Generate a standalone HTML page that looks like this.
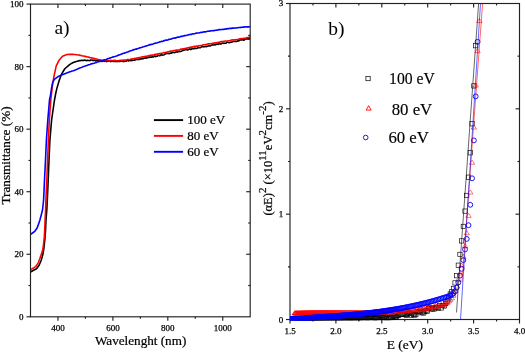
<!DOCTYPE html><html><head><meta charset="utf-8"><title>Transmittance and Tauc plot</title>
<style>html,body{margin:0;padding:0;background:#fff;width:525px;height:352px;overflow:hidden}svg{display:block;will-change:transform}text{font-family:"Liberation Serif",serif;fill:#000;stroke:#000;stroke-width:0.25px}.s9{stroke-width:0.3px}.s13{stroke-width:0.22px}.s16{stroke-width:0.15px}.s19{stroke-width:0.02px}</style></head><body>
<svg width="525" height="352" viewBox="0 0 525 352">
<defs><clipPath id="cl"><rect x="30.50" y="4.10" width="219.70" height="312.70"/></clipPath>
<clipPath id="cr"><rect x="290.00" y="3.50" width="229.50" height="316.80"/></clipPath></defs>
<g clip-path="url(#cl)" fill="none" stroke-width="1.6" stroke-linejoin="round" stroke-linecap="round">
<path d="M30.50,272.00 L33.10,270.50 L36.50,268.80 L39.10,265.30 L41.20,260.20 L42.70,255.10 L43.80,249.00 L44.80,240.00 L45.50,231.00 L46.00,220.00 L46.80,210.00 L47.30,200.00 L48.20,180.00 L49.00,160.00 L49.90,140.00 L51.60,120.00 L54.50,100.00 L55.60,94.00 L56.80,88.60 L59.10,80.70 L61.40,74.40 L64.80,68.75 L69.30,64.80 L70.00,64.35 L70.80,63.87 L71.60,63.38 L72.40,62.96 L73.20,62.55 L74.00,62.20 L74.80,61.91 L75.60,61.68 L76.40,61.44 L77.20,61.24 L78.00,60.98 L78.80,60.87 L79.60,60.54 L80.40,60.66 L81.20,60.24 L82.00,60.47 L82.80,60.34 L83.60,60.39 L84.40,60.16 L85.20,60.17 L86.00,60.50 L86.80,60.60 L87.60,60.19 L88.40,60.43 L89.20,60.56 L90.00,60.58 L90.80,60.00 L91.60,59.97 L92.40,60.09 L93.20,60.70 L94.00,60.08 L94.80,60.40 L95.60,60.94 L96.40,60.61 L97.20,60.81 L98.00,60.53 L98.80,60.92 L99.60,61.12 L100.40,60.44 L101.20,61.15 L102.00,61.42 L102.80,61.25 L103.60,60.88 L104.40,61.39 L105.20,60.83 L106.00,61.19 L106.80,61.66 L107.60,61.15 L108.40,61.18 L109.20,61.06 L110.00,60.98 L110.80,61.59 L111.60,61.19 L112.40,61.25 L113.20,61.47 L114.00,61.09 L114.80,61.56 L115.60,61.18 L116.40,61.58 L117.20,61.67 L118.00,61.11 L118.80,61.36 L119.60,61.57 L120.40,61.28 L121.20,60.91 L122.00,61.29 L122.80,61.36 L123.60,61.17 L124.40,61.50 L125.20,61.11 L126.00,61.31 L126.80,60.54 L127.60,60.45 L128.40,60.96 L129.20,60.49 L130.00,60.19 L130.80,60.77 L131.60,60.15 L132.40,60.40 L133.20,60.26 L134.00,60.28 L134.80,59.92 L135.60,59.91 L136.40,59.42 L137.20,59.22 L138.00,59.65 L138.80,59.10 L139.60,59.45 L140.40,59.05 L141.20,58.88 L142.00,58.29 L142.80,58.91 L143.60,58.32 L144.40,58.30 L145.20,58.01 L146.00,57.71 L146.80,58.17 L147.60,57.74 L148.40,57.08 L149.20,57.49 L150.00,57.08 L150.80,57.11 L151.60,57.29 L152.40,56.66 L153.20,57.01 L154.00,56.60 L154.80,55.90 L155.60,56.57 L156.40,56.20 L157.20,56.32 L158.00,55.42 L158.80,55.22 L159.60,55.78 L160.40,55.41 L161.20,54.68 L162.00,55.13 L162.80,54.97 L163.60,54.96 L164.40,54.61 L165.20,53.92 L166.00,53.66 L166.80,53.50 L167.60,53.34 L168.40,53.37 L169.20,53.76 L170.00,53.30 L170.80,53.15 L171.60,53.24 L172.40,52.43 L173.20,52.41 L174.00,52.52 L174.80,52.70 L175.60,52.17 L176.40,51.53 L177.20,52.07 L178.00,51.40 L178.80,51.76 L179.60,51.22 L180.40,51.49 L181.20,51.23 L182.00,50.90 L182.80,50.36 L183.60,50.13 L184.40,50.03 L185.20,49.81 L186.00,49.71 L186.80,49.66 L187.60,49.95 L188.40,49.66 L189.20,49.01 L190.00,48.91 L190.80,49.57 L191.60,49.06 L192.40,48.59 L193.20,48.49 L194.00,48.79 L194.80,48.15 L195.60,48.35 L196.40,48.56 L197.20,48.31 L198.00,47.62 L198.80,47.71 L199.60,47.68 L200.40,47.73 L201.20,46.98 L202.00,46.71 L202.80,46.61 L203.60,46.84 L204.40,46.81 L205.20,46.63 L206.00,46.25 L206.80,46.70 L207.60,46.19 L208.40,45.85 L209.20,45.85 L210.00,45.88 L210.80,45.65 L211.60,45.14 L212.40,44.81 L213.20,44.93 L214.00,45.01 L214.80,44.48 L215.60,44.82 L216.40,44.05 L217.20,44.08 L218.00,44.43 L218.80,43.74 L219.60,44.00 L220.40,43.76 L221.20,43.98 L222.00,43.25 L222.80,42.94 L223.60,43.41 L224.40,43.31 L225.20,43.30 L226.00,43.19 L226.80,42.23 L227.60,42.30 L228.40,42.52 L229.20,42.68 L230.00,42.55 L230.80,42.07 L231.60,42.26 L232.40,41.87 L233.20,41.51 L234.00,41.46 L234.80,41.43 L235.60,41.24 L236.40,41.44 L237.20,41.29 L238.00,40.67 L238.80,41.04 L239.60,40.19 L240.40,40.00 L241.20,39.86 L242.00,40.05 L242.80,39.46 L243.60,40.15 L244.40,39.89 L245.20,39.01 L246.00,39.01 L246.80,39.00 L247.60,38.66 L248.40,39.12 L249.20,38.55 L250.00,38.93" stroke="#000"/>
<path d="M30.50,269.60 L33.10,268.30 L36.10,266.20 L38.20,262.80 L39.90,258.50 L41.60,253.40 L42.70,250.00 L43.50,245.00 L44.30,237.00 L44.80,228.00 L45.10,220.00 L45.60,210.00 L45.90,200.00 L46.80,180.00 L47.60,160.00 L48.40,140.00 L49.30,120.00 L50.80,100.00 L51.60,93.00 L52.30,86.40 L54.00,76.10 L56.25,65.90 L59.10,60.20 L62.50,56.25 L67.00,54.50 L70.00,54.42 L70.80,54.40 L71.60,54.41 L72.40,54.40 L73.20,54.40 L74.00,54.43 L74.80,54.49 L75.60,54.62 L76.40,54.69 L77.20,54.79 L78.00,54.96 L78.80,55.06 L79.60,55.13 L80.40,55.36 L81.20,55.46 L82.00,55.78 L82.80,55.99 L83.60,56.08 L84.40,56.37 L85.20,56.33 L86.00,56.66 L86.80,56.71 L87.60,57.03 L88.40,57.11 L89.20,57.31 L90.00,57.69 L90.80,57.72 L91.60,57.85 L92.40,58.08 L93.20,58.31 L94.00,58.54 L94.80,58.58 L95.60,58.97 L96.40,59.06 L97.20,59.25 L98.00,59.37 L98.80,59.75 L99.60,59.81 L100.40,59.76 L101.20,60.16 L102.00,60.39 L102.80,60.24 L103.60,60.50 L104.40,60.29 L105.20,60.47 L106.00,60.45 L106.80,60.50 L107.60,60.71 L108.40,60.61 L109.20,60.83 L110.00,60.62 L110.80,60.39 L111.60,60.53 L112.40,60.78 L113.20,60.55 L114.00,60.36 L114.80,60.47 L115.60,60.38 L116.40,60.85 L117.20,60.82 L118.00,60.72 L118.80,60.59 L119.60,60.64 L120.40,60.30 L121.20,60.31 L122.00,60.38 L122.80,60.24 L123.60,60.03 L124.40,60.42 L125.20,60.06 L126.00,59.99 L126.80,59.79 L127.60,59.64 L128.40,59.58 L129.20,59.67 L130.00,59.50 L130.80,59.20 L131.60,58.88 L132.40,59.13 L133.20,58.72 L134.00,58.73 L134.80,58.30 L135.60,58.46 L136.40,58.16 L137.20,58.06 L138.00,57.86 L138.80,57.66 L139.60,57.60 L140.40,57.65 L141.20,57.07 L142.00,57.01 L142.80,56.72 L143.60,56.90 L144.40,56.70 L145.20,56.32 L146.00,56.26 L146.80,56.21 L147.60,56.06 L148.40,55.65 L149.20,55.84 L150.00,55.62 L150.80,55.14 L151.60,55.35 L152.40,55.12 L153.20,54.99 L154.00,54.70 L154.80,54.38 L155.60,54.57 L156.40,54.25 L157.20,53.97 L158.00,53.77 L158.80,53.93 L159.60,53.53 L160.40,53.43 L161.20,53.31 L162.00,53.26 L162.80,53.00 L163.60,52.62 L164.40,52.67 L165.20,52.46 L166.00,52.33 L166.80,52.25 L167.60,51.87 L168.40,51.68 L169.20,51.49 L170.00,51.41 L170.80,51.12 L171.60,51.28 L172.40,50.95 L173.20,50.74 L174.00,50.54 L174.80,50.47 L175.60,50.28 L176.40,50.15 L177.20,50.08 L178.00,49.96 L178.80,49.95 L179.60,49.85 L180.40,49.22 L181.20,49.15 L182.00,49.19 L182.80,48.78 L183.60,48.97 L184.40,48.48 L185.20,48.58 L186.00,48.37 L186.80,48.28 L187.60,47.74 L188.40,47.68 L189.20,47.76 L190.00,47.29 L190.80,47.11 L191.60,47.12 L192.40,47.08 L193.20,46.66 L194.00,46.52 L194.80,46.36 L195.60,46.38 L196.40,46.37 L197.20,45.98 L198.00,46.17 L198.80,45.80 L199.60,45.75 L200.40,45.44 L201.20,45.45 L202.00,45.48 L202.80,45.08 L203.60,44.81 L204.40,44.77 L205.20,44.64 L206.00,44.52 L206.80,44.38 L207.60,43.99 L208.40,43.90 L209.20,43.90 L210.00,43.88 L210.80,43.77 L211.60,43.62 L212.40,43.34 L213.20,43.42 L214.00,42.96 L214.80,42.90 L215.60,42.89 L216.40,42.80 L217.20,42.44 L218.00,42.52 L218.80,42.19 L219.60,42.19 L220.40,41.71 L221.20,41.59 L222.00,41.92 L222.80,41.38 L223.60,41.53 L224.40,41.22 L225.20,41.06 L226.00,41.03 L226.80,41.17 L227.60,40.88 L228.40,40.93 L229.20,40.70 L230.00,40.48 L230.80,40.36 L231.60,40.09 L232.40,39.86 L233.20,39.94 L234.00,39.89 L234.80,39.92 L235.60,39.69 L236.40,39.65 L237.20,39.56 L238.00,39.44 L238.80,39.25 L239.60,38.77 L240.40,38.75 L241.20,38.55 L242.00,38.75 L242.80,38.58 L243.60,38.23 L244.40,38.20 L245.20,38.19 L246.00,38.07 L246.80,37.62 L247.60,37.75 L248.40,37.65 L249.20,37.14 L250.00,37.04" stroke="#f00"/>
<path d="M30.50,234.30 L32.50,233.00 L34.80,231.30 L37.10,228.00 L38.80,223.40 L39.90,220.00 L41.50,214.00 L42.50,210.00 L43.60,200.00 L44.50,180.00 L45.50,160.00 L46.40,140.00 L47.80,120.00 L49.50,100.00 L50.70,94.10 L51.50,88.40 L52.60,82.70 L54.30,79.30 L57.70,76.80 L62.30,74.80 L68.00,72.50 L70.00,71.81 L70.80,71.56 L71.60,71.30 L72.40,71.04 L73.20,70.80 L74.00,70.52 L74.80,70.17 L75.60,69.85 L76.40,69.47 L77.20,69.14 L78.00,68.72 L78.80,68.40 L79.60,68.09 L80.40,67.71 L81.20,67.47 L82.00,67.15 L82.80,66.74 L83.60,66.57 L84.40,66.22 L85.20,65.98 L86.00,65.67 L86.80,65.51 L87.60,65.17 L88.40,64.82 L89.20,64.68 L90.00,64.49 L90.80,64.08 L91.60,63.79 L92.40,63.60 L93.20,63.55 L94.00,63.33 L94.80,62.97 L95.60,62.83 L96.40,62.57 L97.20,62.14 L98.00,61.79 L98.80,61.77 L99.60,61.49 L100.40,61.17 L101.20,60.87 L102.00,60.69 L102.80,60.46 L103.60,60.12 L104.40,59.87 L105.20,59.68 L106.00,59.58 L106.80,59.20 L107.60,58.82 L108.40,58.55 L109.20,58.35 L110.00,57.98 L110.80,57.71 L111.60,57.57 L112.40,57.12 L113.20,57.01 L114.00,56.69 L114.80,56.55 L115.60,56.29 L116.40,55.99 L117.20,55.71 L118.00,55.30 L118.80,55.14 L119.60,54.72 L120.40,54.53 L121.20,54.14 L122.00,53.90 L122.80,53.46 L123.60,53.25 L124.40,53.25 L125.20,52.67 L126.00,52.57 L126.80,52.27 L127.60,52.02 L128.40,51.64 L129.20,51.41 L130.00,50.93 L130.80,50.66 L131.60,50.44 L132.40,50.15 L133.20,49.87 L134.00,49.61 L134.80,49.52 L135.60,49.11 L136.40,49.15 L137.20,48.79 L138.00,48.47 L138.80,48.28 L139.60,47.85 L140.40,47.86 L141.20,47.57 L142.00,47.28 L142.80,46.93 L143.60,46.83 L144.40,46.54 L145.20,46.26 L146.00,46.12 L146.80,45.76 L147.60,45.41 L148.40,45.25 L149.20,44.87 L150.00,44.63 L150.80,44.60 L151.60,44.39 L152.40,44.23 L153.20,43.95 L154.00,43.60 L154.80,43.19 L155.60,43.12 L156.40,43.07 L157.20,42.78 L158.00,42.44 L158.80,42.20 L159.60,41.89 L160.40,41.65 L161.20,41.39 L162.00,41.50 L162.80,41.18 L163.60,40.76 L164.40,40.66 L165.20,40.30 L166.00,40.15 L166.80,40.15 L167.60,39.91 L168.40,39.63 L169.20,39.35 L170.00,39.29 L170.80,39.21 L171.60,38.80 L172.40,38.45 L173.20,38.24 L174.00,38.05 L174.80,38.21 L175.60,37.84 L176.40,37.76 L177.20,37.30 L178.00,37.14 L178.80,37.12 L179.60,37.01 L180.40,36.59 L181.20,36.29 L182.00,36.42 L182.80,36.01 L183.60,36.01 L184.40,35.60 L185.20,35.63 L186.00,35.52 L186.80,35.30 L187.60,34.98 L188.40,34.96 L189.20,34.55 L190.00,34.45 L190.80,34.33 L191.60,34.35 L192.40,33.89 L193.20,34.02 L194.00,33.83 L194.80,33.74 L195.60,33.35 L196.40,33.13 L197.20,32.99 L198.00,33.08 L198.80,32.99 L199.60,32.75 L200.40,32.52 L201.20,32.31 L202.00,32.40 L202.80,32.28 L203.60,31.84 L204.40,31.76 L205.20,31.88 L206.00,31.77 L206.80,31.43 L207.60,31.29 L208.40,31.24 L209.20,31.16 L210.00,30.87 L210.80,31.05 L211.60,30.81 L212.40,30.80 L213.20,30.47 L214.00,30.65 L214.80,30.46 L215.60,30.19 L216.40,30.33 L217.20,30.12 L218.00,30.07 L218.80,29.65 L219.60,29.56 L220.40,29.73 L221.20,29.46 L222.00,29.45 L222.80,29.21 L223.60,29.44 L224.40,29.15 L225.20,29.19 L226.00,28.80 L226.80,28.87 L227.60,28.61 L228.40,28.85 L229.20,28.59 L230.00,28.35 L230.80,28.27 L231.60,28.37 L232.40,28.10 L233.20,28.06 L234.00,28.08 L234.80,28.02 L235.60,27.97 L236.40,27.91 L237.20,27.73 L238.00,27.75 L238.80,27.49 L239.60,27.46 L240.40,27.59 L241.20,27.25 L242.00,27.21 L242.80,27.14 L243.60,27.16 L244.40,26.90 L245.20,26.84 L246.00,26.94 L246.80,26.75 L247.60,26.89 L248.40,26.87 L249.20,26.71 L250.00,26.69" stroke="#00f"/>
</g>
<g stroke="#222" stroke-width="1.15" fill="none">
<rect x="30.50" y="4.10" width="219.70" height="312.70"/>
<line x1="57.96" y1="316.80" x2="57.96" y2="320.80"/>
<line x1="57.96" y1="4.10" x2="57.96" y2="8.10"/>
<line x1="85.42" y1="316.80" x2="85.42" y2="318.80"/>
<line x1="85.42" y1="4.10" x2="85.42" y2="6.10"/>
<line x1="112.89" y1="316.80" x2="112.89" y2="320.80"/>
<line x1="112.89" y1="4.10" x2="112.89" y2="8.10"/>
<line x1="140.35" y1="316.80" x2="140.35" y2="318.80"/>
<line x1="140.35" y1="4.10" x2="140.35" y2="6.10"/>
<line x1="167.81" y1="316.80" x2="167.81" y2="320.80"/>
<line x1="167.81" y1="4.10" x2="167.81" y2="8.10"/>
<line x1="195.28" y1="316.80" x2="195.28" y2="318.80"/>
<line x1="195.28" y1="4.10" x2="195.28" y2="6.10"/>
<line x1="222.74" y1="316.80" x2="222.74" y2="320.80"/>
<line x1="222.74" y1="4.10" x2="222.74" y2="8.10"/>
<line x1="26.50" y1="316.80" x2="30.50" y2="316.80"/>
<line x1="28.50" y1="285.53" x2="30.50" y2="285.53"/>
<line x1="248.20" y1="285.53" x2="250.20" y2="285.53"/>
<line x1="26.50" y1="254.26" x2="30.50" y2="254.26"/>
<line x1="246.20" y1="254.26" x2="250.20" y2="254.26"/>
<line x1="28.50" y1="222.99" x2="30.50" y2="222.99"/>
<line x1="248.20" y1="222.99" x2="250.20" y2="222.99"/>
<line x1="26.50" y1="191.72" x2="30.50" y2="191.72"/>
<line x1="246.20" y1="191.72" x2="250.20" y2="191.72"/>
<line x1="28.50" y1="160.45" x2="30.50" y2="160.45"/>
<line x1="248.20" y1="160.45" x2="250.20" y2="160.45"/>
<line x1="26.50" y1="129.18" x2="30.50" y2="129.18"/>
<line x1="246.20" y1="129.18" x2="250.20" y2="129.18"/>
<line x1="28.50" y1="97.91" x2="30.50" y2="97.91"/>
<line x1="248.20" y1="97.91" x2="250.20" y2="97.91"/>
<line x1="26.50" y1="66.64" x2="30.50" y2="66.64"/>
<line x1="246.20" y1="66.64" x2="250.20" y2="66.64"/>
<line x1="28.50" y1="35.37" x2="30.50" y2="35.37"/>
<line x1="248.20" y1="35.37" x2="250.20" y2="35.37"/>
<line x1="26.50" y1="4.10" x2="30.50" y2="4.10"/>
</g>
<g font-size="9" text-anchor="end" class="s9">
<text x="23.6" y="319.90">0</text>
<text x="23.6" y="257.36">20</text>
<text x="23.6" y="194.82">40</text>
<text x="23.6" y="132.28">60</text>
<text x="23.6" y="69.74">80</text>
<text x="23.6" y="7.20">100</text>
</g>
<g font-size="9" text-anchor="middle" class="s9">
<text x="57.96" y="330.5">400</text>
<text x="112.89" y="330.5">600</text>
<text x="167.81" y="330.5">800</text>
<text x="222.74" y="330.5">1000</text>
</g>
<text x="95" y="344.7" font-size="13.15" class="s13">Wavelenght (nm)</text>
<text transform="translate(9.9,204.5) rotate(-90)" font-size="13.2" class="s13">Transmittance (%)</text>
<text x="54.4" y="33.9" font-size="19.5" class="s19">a)</text>
<line x1="153.9" y1="120.10" x2="183.1" y2="120.10" stroke="#000" stroke-width="1.9"/>
<text x="187.2" y="124.00" font-size="13" class="s13">100 eV</text>
<line x1="153.9" y1="135.90" x2="183.1" y2="135.90" stroke="#f00" stroke-width="1.9"/>
<text x="187.2" y="139.80" font-size="13" class="s13">80 eV</text>
<line x1="153.9" y1="151.80" x2="183.1" y2="151.80" stroke="#00f" stroke-width="1.9"/>
<text x="187.2" y="155.70" font-size="13" class="s13">60 eV</text>
<g stroke="#222" stroke-width="1.15" fill="none">
<rect x="290.00" y="3.50" width="229.50" height="316.00"/>
<line x1="312.95" y1="319.50" x2="312.95" y2="321.50"/>
<line x1="312.95" y1="3.50" x2="312.95" y2="5.50"/>
<line x1="335.90" y1="319.50" x2="335.90" y2="323.50"/>
<line x1="335.90" y1="3.50" x2="335.90" y2="7.50"/>
<line x1="358.85" y1="319.50" x2="358.85" y2="321.50"/>
<line x1="358.85" y1="3.50" x2="358.85" y2="5.50"/>
<line x1="381.80" y1="319.50" x2="381.80" y2="323.50"/>
<line x1="381.80" y1="3.50" x2="381.80" y2="7.50"/>
<line x1="404.75" y1="319.50" x2="404.75" y2="321.50"/>
<line x1="404.75" y1="3.50" x2="404.75" y2="5.50"/>
<line x1="427.70" y1="319.50" x2="427.70" y2="323.50"/>
<line x1="427.70" y1="3.50" x2="427.70" y2="7.50"/>
<line x1="450.65" y1="319.50" x2="450.65" y2="321.50"/>
<line x1="450.65" y1="3.50" x2="450.65" y2="5.50"/>
<line x1="473.60" y1="319.50" x2="473.60" y2="323.50"/>
<line x1="473.60" y1="3.50" x2="473.60" y2="7.50"/>
<line x1="496.55" y1="319.50" x2="496.55" y2="321.50"/>
<line x1="496.55" y1="3.50" x2="496.55" y2="5.50"/>
<line x1="290.00" y1="319.50" x2="290.00" y2="323.50"/>
<line x1="519.50" y1="319.50" x2="519.50" y2="323.50"/>
<line x1="286.00" y1="319.50" x2="290.00" y2="319.50"/>
<line x1="288.00" y1="266.83" x2="290.00" y2="266.83"/>
<line x1="517.50" y1="266.83" x2="519.50" y2="266.83"/>
<line x1="286.00" y1="214.17" x2="290.00" y2="214.17"/>
<line x1="515.50" y1="214.17" x2="519.50" y2="214.17"/>
<line x1="288.00" y1="161.50" x2="290.00" y2="161.50"/>
<line x1="517.50" y1="161.50" x2="519.50" y2="161.50"/>
<line x1="286.00" y1="108.83" x2="290.00" y2="108.83"/>
<line x1="515.50" y1="108.83" x2="519.50" y2="108.83"/>
<line x1="288.00" y1="56.17" x2="290.00" y2="56.17"/>
<line x1="517.50" y1="56.17" x2="519.50" y2="56.17"/>
<line x1="286.00" y1="3.50" x2="290.00" y2="3.50"/>
</g>
<g clip-path="url(#cr)" fill="none" stroke-width="0.9">
<g stroke="#000" stroke-width="0.65">
<rect x="282.51" y="317.14" width="4.3" height="4.3"/>
<rect x="282.82" y="317.14" width="4.3" height="4.3"/>
<rect x="283.13" y="317.13" width="4.3" height="4.3"/>
<rect x="283.44" y="317.13" width="4.3" height="4.3"/>
<rect x="283.76" y="317.13" width="4.3" height="4.3"/>
<rect x="284.07" y="317.13" width="4.3" height="4.3"/>
<rect x="284.39" y="317.13" width="4.3" height="4.3"/>
<rect x="284.70" y="317.13" width="4.3" height="4.3"/>
<rect x="285.02" y="317.12" width="4.3" height="4.3"/>
<rect x="285.34" y="317.12" width="4.3" height="4.3"/>
<rect x="285.66" y="317.12" width="4.3" height="4.3"/>
<rect x="285.99" y="317.12" width="4.3" height="4.3"/>
<rect x="286.31" y="317.12" width="4.3" height="4.3"/>
<rect x="286.64" y="317.11" width="4.3" height="4.3"/>
<rect x="286.97" y="317.11" width="4.3" height="4.3"/>
<rect x="287.30" y="317.11" width="4.3" height="4.3"/>
<rect x="287.63" y="317.10" width="4.3" height="4.3"/>
<rect x="287.96" y="317.10" width="4.3" height="4.3"/>
<rect x="288.30" y="317.09" width="4.3" height="4.3"/>
<rect x="288.63" y="317.09" width="4.3" height="4.3"/>
<rect x="288.97" y="317.08" width="4.3" height="4.3"/>
<rect x="289.31" y="317.07" width="4.3" height="4.3"/>
<rect x="289.65" y="317.06" width="4.3" height="4.3"/>
<rect x="289.99" y="317.05" width="4.3" height="4.3"/>
<rect x="290.34" y="317.04" width="4.3" height="4.3"/>
<rect x="290.68" y="317.02" width="4.3" height="4.3"/>
<rect x="291.03" y="317.01" width="4.3" height="4.3"/>
<rect x="291.38" y="316.99" width="4.3" height="4.3"/>
<rect x="291.73" y="316.98" width="4.3" height="4.3"/>
<rect x="292.09" y="316.96" width="4.3" height="4.3"/>
<rect x="292.44" y="316.94" width="4.3" height="4.3"/>
<rect x="292.80" y="316.91" width="4.3" height="4.3"/>
<rect x="293.16" y="316.89" width="4.3" height="4.3"/>
<rect x="293.52" y="316.87" width="4.3" height="4.3"/>
<rect x="293.88" y="316.84" width="4.3" height="4.3"/>
<rect x="294.24" y="316.81" width="4.3" height="4.3"/>
<rect x="294.61" y="316.79" width="4.3" height="4.3"/>
<rect x="294.97" y="316.76" width="4.3" height="4.3"/>
<rect x="295.34" y="316.73" width="4.3" height="4.3"/>
<rect x="295.72" y="316.70" width="4.3" height="4.3"/>
<rect x="296.09" y="316.66" width="4.3" height="4.3"/>
<rect x="296.46" y="316.63" width="4.3" height="4.3"/>
<rect x="296.84" y="316.60" width="4.3" height="4.3"/>
<rect x="297.22" y="316.57" width="4.3" height="4.3"/>
<rect x="297.60" y="316.54" width="4.3" height="4.3"/>
<rect x="297.98" y="316.51" width="4.3" height="4.3"/>
<rect x="298.37" y="316.48" width="4.3" height="4.3"/>
<rect x="298.76" y="316.45" width="4.3" height="4.3"/>
<rect x="299.14" y="316.43" width="4.3" height="4.3"/>
<rect x="299.54" y="316.41" width="4.3" height="4.3"/>
<rect x="299.93" y="316.39" width="4.3" height="4.3"/>
<rect x="300.32" y="316.38" width="4.3" height="4.3"/>
<rect x="300.72" y="316.36" width="4.3" height="4.3"/>
<rect x="301.12" y="316.34" width="4.3" height="4.3"/>
<rect x="301.52" y="316.33" width="4.3" height="4.3"/>
<rect x="301.93" y="316.31" width="4.3" height="4.3"/>
<rect x="302.33" y="316.30" width="4.3" height="4.3"/>
<rect x="302.74" y="316.28" width="4.3" height="4.3"/>
<rect x="303.15" y="316.27" width="4.3" height="4.3"/>
<rect x="303.56" y="316.25" width="4.3" height="4.3"/>
<rect x="303.98" y="316.24" width="4.3" height="4.3"/>
<rect x="304.39" y="316.22" width="4.3" height="4.3"/>
<rect x="304.81" y="316.21" width="4.3" height="4.3"/>
<rect x="305.23" y="316.20" width="4.3" height="4.3"/>
<rect x="305.66" y="316.18" width="4.3" height="4.3"/>
<rect x="306.08" y="316.17" width="4.3" height="4.3"/>
<rect x="306.51" y="316.16" width="4.3" height="4.3"/>
<rect x="306.94" y="316.15" width="4.3" height="4.3"/>
<rect x="307.38" y="316.13" width="4.3" height="4.3"/>
<rect x="307.81" y="316.12" width="4.3" height="4.3"/>
<rect x="308.25" y="316.11" width="4.3" height="4.3"/>
<rect x="308.69" y="316.10" width="4.3" height="4.3"/>
<rect x="309.13" y="316.09" width="4.3" height="4.3"/>
<rect x="309.58" y="316.08" width="4.3" height="4.3"/>
<rect x="310.03" y="316.07" width="4.3" height="4.3"/>
<rect x="310.48" y="316.06" width="4.3" height="4.3"/>
<rect x="310.93" y="316.05" width="4.3" height="4.3"/>
<rect x="311.39" y="316.04" width="4.3" height="4.3"/>
<rect x="311.84" y="316.04" width="4.3" height="4.3"/>
<rect x="312.30" y="316.03" width="4.3" height="4.3"/>
<rect x="312.77" y="316.02" width="4.3" height="4.3"/>
<rect x="313.23" y="316.02" width="4.3" height="4.3"/>
<rect x="313.70" y="316.01" width="4.3" height="4.3"/>
<rect x="314.17" y="316.00" width="4.3" height="4.3"/>
<rect x="314.65" y="316.00" width="4.3" height="4.3"/>
<rect x="315.12" y="315.99" width="4.3" height="4.3"/>
<rect x="315.60" y="315.98" width="4.3" height="4.3"/>
<rect x="316.09" y="315.98" width="4.3" height="4.3"/>
<rect x="316.57" y="315.97" width="4.3" height="4.3"/>
<rect x="317.06" y="315.97" width="4.3" height="4.3"/>
<rect x="317.55" y="315.96" width="4.3" height="4.3"/>
<rect x="318.04" y="315.96" width="4.3" height="4.3"/>
<rect x="318.54" y="315.95" width="4.3" height="4.3"/>
<rect x="319.04" y="315.95" width="4.3" height="4.3"/>
<rect x="319.54" y="315.94" width="4.3" height="4.3"/>
<rect x="320.05" y="315.94" width="4.3" height="4.3"/>
<rect x="320.56" y="315.93" width="4.3" height="4.3"/>
<rect x="321.07" y="315.93" width="4.3" height="4.3"/>
<rect x="321.58" y="315.92" width="4.3" height="4.3"/>
<rect x="322.10" y="315.92" width="4.3" height="4.3"/>
<rect x="322.62" y="315.92" width="4.3" height="4.3"/>
<rect x="323.15" y="315.91" width="4.3" height="4.3"/>
<rect x="323.67" y="315.91" width="4.3" height="4.3"/>
<rect x="324.21" y="315.91" width="4.3" height="4.3"/>
<rect x="324.74" y="315.90" width="4.3" height="4.3"/>
<rect x="325.28" y="315.90" width="4.3" height="4.3"/>
<rect x="325.82" y="315.90" width="4.3" height="4.3"/>
<rect x="326.36" y="315.89" width="4.3" height="4.3"/>
<rect x="326.91" y="315.89" width="4.3" height="4.3"/>
<rect x="327.46" y="315.89" width="4.3" height="4.3"/>
<rect x="328.01" y="315.89" width="4.3" height="4.3"/>
<rect x="328.57" y="315.88" width="4.3" height="4.3"/>
<rect x="329.13" y="315.88" width="4.3" height="4.3"/>
<rect x="329.70" y="315.88" width="4.3" height="4.3"/>
<rect x="330.26" y="315.88" width="4.3" height="4.3"/>
<rect x="330.84" y="315.88" width="4.3" height="4.3"/>
<rect x="331.41" y="315.88" width="4.3" height="4.3"/>
<rect x="331.99" y="315.87" width="4.3" height="4.3"/>
<rect x="332.57" y="315.87" width="4.3" height="4.3"/>
<rect x="333.16" y="315.87" width="4.3" height="4.3"/>
<rect x="333.75" y="315.87" width="4.3" height="4.3"/>
<rect x="334.34" y="315.87" width="4.3" height="4.3"/>
<rect x="334.94" y="315.87" width="4.3" height="4.3"/>
<rect x="335.54" y="315.87" width="4.3" height="4.3"/>
<rect x="336.15" y="315.87" width="4.3" height="4.3"/>
<rect x="336.76" y="315.87" width="4.3" height="4.3"/>
<rect x="337.37" y="315.87" width="4.3" height="4.3"/>
<rect x="337.99" y="315.86" width="4.3" height="4.3"/>
<rect x="338.61" y="315.86" width="4.3" height="4.3"/>
<rect x="339.24" y="315.86" width="4.3" height="4.3"/>
<rect x="339.87" y="315.86" width="4.3" height="4.3"/>
<rect x="340.50" y="315.84" width="4.3" height="4.3"/>
<rect x="341.14" y="315.80" width="4.3" height="4.3"/>
<rect x="341.79" y="315.83" width="4.3" height="4.3"/>
<rect x="342.43" y="315.72" width="4.3" height="4.3"/>
<rect x="343.09" y="315.70" width="4.3" height="4.3"/>
<rect x="343.74" y="315.98" width="4.3" height="4.3"/>
<rect x="344.40" y="315.75" width="4.3" height="4.3"/>
<rect x="345.07" y="315.60" width="4.3" height="4.3"/>
<rect x="345.74" y="315.65" width="4.3" height="4.3"/>
<rect x="346.41" y="315.88" width="4.3" height="4.3"/>
<rect x="347.09" y="316.07" width="4.3" height="4.3"/>
<rect x="347.78" y="315.97" width="4.3" height="4.3"/>
<rect x="348.46" y="315.55" width="4.3" height="4.3"/>
<rect x="349.16" y="316.15" width="4.3" height="4.3"/>
<rect x="349.86" y="316.04" width="4.3" height="4.3"/>
<rect x="350.56" y="315.75" width="4.3" height="4.3"/>
<rect x="351.27" y="315.47" width="4.3" height="4.3"/>
<rect x="351.98" y="316.29" width="4.3" height="4.3"/>
<rect x="352.70" y="316.27" width="4.3" height="4.3"/>
<rect x="353.42" y="315.34" width="4.3" height="4.3"/>
<rect x="354.15" y="315.46" width="4.3" height="4.3"/>
<rect x="354.88" y="316.46" width="4.3" height="4.3"/>
<rect x="355.62" y="316.21" width="4.3" height="4.3"/>
<rect x="356.37" y="315.79" width="4.3" height="4.3"/>
<rect x="357.12" y="314.95" width="4.3" height="4.3"/>
<rect x="357.87" y="316.34" width="4.3" height="4.3"/>
<rect x="358.63" y="316.21" width="4.3" height="4.3"/>
<rect x="359.40" y="315.08" width="4.3" height="4.3"/>
<rect x="360.17" y="315.82" width="4.3" height="4.3"/>
<rect x="360.95" y="315.11" width="4.3" height="4.3"/>
<rect x="361.73" y="314.89" width="4.3" height="4.3"/>
<rect x="362.52" y="315.97" width="4.3" height="4.3"/>
<rect x="363.32" y="315.02" width="4.3" height="4.3"/>
<rect x="364.12" y="314.75" width="4.3" height="4.3"/>
<rect x="364.93" y="316.60" width="4.3" height="4.3"/>
<rect x="365.74" y="316.33" width="4.3" height="4.3"/>
<rect x="366.56" y="315.78" width="4.3" height="4.3"/>
<rect x="367.39" y="315.59" width="4.3" height="4.3"/>
<rect x="368.22" y="314.30" width="4.3" height="4.3"/>
<rect x="369.06" y="315.33" width="4.3" height="4.3"/>
<rect x="369.90" y="315.17" width="4.3" height="4.3"/>
<rect x="370.75" y="313.97" width="4.3" height="4.3"/>
<rect x="371.61" y="316.06" width="4.3" height="4.3"/>
<rect x="372.48" y="316.22" width="4.3" height="4.3"/>
<rect x="373.35" y="315.92" width="4.3" height="4.3"/>
<rect x="374.23" y="315.50" width="4.3" height="4.3"/>
<rect x="375.11" y="314.92" width="4.3" height="4.3"/>
<rect x="376.01" y="316.11" width="4.3" height="4.3"/>
<rect x="376.91" y="314.59" width="4.3" height="4.3"/>
<rect x="377.81" y="313.58" width="4.3" height="4.3"/>
<rect x="378.73" y="315.50" width="4.3" height="4.3"/>
<rect x="379.65" y="313.68" width="4.3" height="4.3"/>
<rect x="380.58" y="315.62" width="4.3" height="4.3"/>
<rect x="381.52" y="315.85" width="4.3" height="4.3"/>
<rect x="382.46" y="314.63" width="4.3" height="4.3"/>
<rect x="383.41" y="313.81" width="4.3" height="4.3"/>
<rect x="384.37" y="316.00" width="4.3" height="4.3"/>
<rect x="385.34" y="312.72" width="4.3" height="4.3"/>
<rect x="386.32" y="316.14" width="4.3" height="4.3"/>
<rect x="387.30" y="315.53" width="4.3" height="4.3"/>
<rect x="388.29" y="314.93" width="4.3" height="4.3"/>
<rect x="389.29" y="315.69" width="4.3" height="4.3"/>
<rect x="390.30" y="315.16" width="4.3" height="4.3"/>
<rect x="391.32" y="313.79" width="4.3" height="4.3"/>
<rect x="392.35" y="313.93" width="4.3" height="4.3"/>
<rect x="393.38" y="314.92" width="4.3" height="4.3"/>
<rect x="394.42" y="314.72" width="4.3" height="4.3"/>
<rect x="395.48" y="313.30" width="4.3" height="4.3"/>
<rect x="396.54" y="313.04" width="4.3" height="4.3"/>
<rect x="397.61" y="311.91" width="4.3" height="4.3"/>
<rect x="398.69" y="312.31" width="4.3" height="4.3"/>
<rect x="399.78" y="312.27" width="4.3" height="4.3"/>
<rect x="400.88" y="312.19" width="4.3" height="4.3"/>
<rect x="401.99" y="311.21" width="4.3" height="4.3"/>
<rect x="403.11" y="312.45" width="4.3" height="4.3"/>
<rect x="404.24" y="313.31" width="4.3" height="4.3"/>
<rect x="405.38" y="312.02" width="4.3" height="4.3"/>
<rect x="406.53" y="311.22" width="4.3" height="4.3"/>
<rect x="407.69" y="310.32" width="4.3" height="4.3"/>
<rect x="408.86" y="312.96" width="4.3" height="4.3"/>
<rect x="410.04" y="311.28" width="4.3" height="4.3"/>
<rect x="411.23" y="312.56" width="4.3" height="4.3"/>
<rect x="412.44" y="312.73" width="4.3" height="4.3"/>
<rect x="413.65" y="312.57" width="4.3" height="4.3"/>
<rect x="414.88" y="309.41" width="4.3" height="4.3"/>
<rect x="416.11" y="310.59" width="4.3" height="4.3"/>
<rect x="417.36" y="309.19" width="4.3" height="4.3"/>
<rect x="418.62" y="307.89" width="4.3" height="4.3"/>
<rect x="419.89" y="310.13" width="4.3" height="4.3"/>
<rect x="421.18" y="310.92" width="4.3" height="4.3"/>
<rect x="422.48" y="309.57" width="4.3" height="4.3"/>
<rect x="423.78" y="308.56" width="4.3" height="4.3"/>
<rect x="425.11" y="308.97" width="4.3" height="4.3"/>
<rect x="426.44" y="306.16" width="4.3" height="4.3"/>
<rect x="427.79" y="305.43" width="4.3" height="4.3"/>
<rect x="429.15" y="306.71" width="4.3" height="4.3"/>
<rect x="430.52" y="306.76" width="4.3" height="4.3"/>
<rect x="431.91" y="306.80" width="4.3" height="4.3"/>
<rect x="433.31" y="305.55" width="4.3" height="4.3"/>
<rect x="434.73" y="305.09" width="4.3" height="4.3"/>
<rect x="436.16" y="305.96" width="4.3" height="4.3"/>
<rect x="437.60" y="303.34" width="4.3" height="4.3"/>
<rect x="439.06" y="305.82" width="4.3" height="4.3"/>
<rect x="440.54" y="303.32" width="4.3" height="4.3"/>
<rect x="442.03" y="303.82" width="4.3" height="4.3"/>
<rect x="443.53" y="301.42" width="4.3" height="4.3"/>
<rect x="445.05" y="298.92" width="4.3" height="4.3"/>
<rect x="446.59" y="295.89" width="4.3" height="4.3"/>
<rect x="448.14" y="291.85" width="4.3" height="4.3"/>
<rect x="449.71" y="289.35" width="4.3" height="4.3"/>
<rect x="451.29" y="286.25" width="4.3" height="4.3"/>
<rect x="452.89" y="280.75" width="4.3" height="4.3"/>
<rect x="454.51" y="273.55" width="4.3" height="4.3"/>
<rect x="456.15" y="263.05" width="4.3" height="4.3"/>
<rect x="457.80" y="252.25" width="4.3" height="4.3"/>
<rect x="459.48" y="238.75" width="4.3" height="4.3"/>
<rect x="461.17" y="224.25" width="4.3" height="4.3"/>
<rect x="462.88" y="208.95" width="4.3" height="4.3"/>
<rect x="464.60" y="193.25" width="4.3" height="4.3"/>
<rect x="466.35" y="175.05" width="4.3" height="4.3"/>
<rect x="468.12" y="150.65" width="4.3" height="4.3"/>
<rect x="469.90" y="121.65" width="4.3" height="4.3"/>
<rect x="471.71" y="83.75" width="4.3" height="4.3"/>
<rect x="473.54" y="43.55" width="4.3" height="4.3"/>
<rect x="475.38" y="-3.92" width="4.3" height="4.3"/>
</g>
<g stroke="#f00" stroke-width="0.55">
<path d="M294.59,310.83l2.70,4.10h-5.40z"/>
<path d="M294.95,310.82l2.70,4.10h-5.40z"/>
<path d="M295.31,310.81l2.70,4.10h-5.40z"/>
<path d="M295.67,310.80l2.70,4.10h-5.40z"/>
<path d="M296.03,310.79l2.70,4.10h-5.40z"/>
<path d="M296.39,310.78l2.70,4.10h-5.40z"/>
<path d="M296.76,310.77l2.70,4.10h-5.40z"/>
<path d="M297.12,310.76l2.70,4.10h-5.40z"/>
<path d="M297.49,310.75l2.70,4.10h-5.40z"/>
<path d="M297.87,310.74l2.70,4.10h-5.40z"/>
<path d="M298.24,310.72l2.70,4.10h-5.40z"/>
<path d="M298.61,310.71l2.70,4.10h-5.40z"/>
<path d="M298.99,310.70l2.70,4.10h-5.40z"/>
<path d="M299.37,310.69l2.70,4.10h-5.40z"/>
<path d="M299.75,310.68l2.70,4.10h-5.40z"/>
<path d="M300.13,310.67l2.70,4.10h-5.40z"/>
<path d="M300.52,310.66l2.70,4.10h-5.40z"/>
<path d="M300.91,310.65l2.70,4.10h-5.40z"/>
<path d="M301.29,310.64l2.70,4.10h-5.40z"/>
<path d="M301.69,310.63l2.70,4.10h-5.40z"/>
<path d="M302.08,310.61l2.70,4.10h-5.40z"/>
<path d="M302.47,310.60l2.70,4.10h-5.40z"/>
<path d="M302.87,310.59l2.70,4.10h-5.40z"/>
<path d="M303.27,310.58l2.70,4.10h-5.40z"/>
<path d="M303.67,310.56l2.70,4.10h-5.40z"/>
<path d="M304.08,310.55l2.70,4.10h-5.40z"/>
<path d="M304.48,310.54l2.70,4.10h-5.40z"/>
<path d="M304.89,310.52l2.70,4.10h-5.40z"/>
<path d="M305.30,310.51l2.70,4.10h-5.40z"/>
<path d="M305.71,310.50l2.70,4.10h-5.40z"/>
<path d="M306.13,310.48l2.70,4.10h-5.40z"/>
<path d="M306.54,310.47l2.70,4.10h-5.40z"/>
<path d="M306.96,310.45l2.70,4.10h-5.40z"/>
<path d="M307.38,310.44l2.70,4.10h-5.40z"/>
<path d="M307.81,310.42l2.70,4.10h-5.40z"/>
<path d="M308.23,310.41l2.70,4.10h-5.40z"/>
<path d="M308.66,310.39l2.70,4.10h-5.40z"/>
<path d="M309.09,310.38l2.70,4.10h-5.40z"/>
<path d="M309.53,310.37l2.70,4.10h-5.40z"/>
<path d="M309.96,310.35l2.70,4.10h-5.40z"/>
<path d="M310.40,310.34l2.70,4.10h-5.40z"/>
<path d="M310.84,310.33l2.70,4.10h-5.40z"/>
<path d="M311.28,310.31l2.70,4.10h-5.40z"/>
<path d="M311.73,310.30l2.70,4.10h-5.40z"/>
<path d="M312.18,310.29l2.70,4.10h-5.40z"/>
<path d="M312.63,310.28l2.70,4.10h-5.40z"/>
<path d="M313.08,310.27l2.70,4.10h-5.40z"/>
<path d="M313.54,310.26l2.70,4.10h-5.40z"/>
<path d="M313.99,310.25l2.70,4.10h-5.40z"/>
<path d="M314.45,310.24l2.70,4.10h-5.40z"/>
<path d="M314.92,310.23l2.70,4.10h-5.40z"/>
<path d="M315.38,310.23l2.70,4.10h-5.40z"/>
<path d="M315.85,310.22l2.70,4.10h-5.40z"/>
<path d="M316.32,310.21l2.70,4.10h-5.40z"/>
<path d="M316.80,310.21l2.70,4.10h-5.40z"/>
<path d="M317.27,310.20l2.70,4.10h-5.40z"/>
<path d="M317.75,310.19l2.70,4.10h-5.40z"/>
<path d="M318.24,310.19l2.70,4.10h-5.40z"/>
<path d="M318.72,310.18l2.70,4.10h-5.40z"/>
<path d="M319.21,310.17l2.70,4.10h-5.40z"/>
<path d="M319.70,310.17l2.70,4.10h-5.40z"/>
<path d="M320.19,310.16l2.70,4.10h-5.40z"/>
<path d="M320.69,310.15l2.70,4.10h-5.40z"/>
<path d="M321.19,310.15l2.70,4.10h-5.40z"/>
<path d="M321.69,310.14l2.70,4.10h-5.40z"/>
<path d="M322.20,310.13l2.70,4.10h-5.40z"/>
<path d="M322.71,310.13l2.70,4.10h-5.40z"/>
<path d="M323.22,310.12l2.70,4.10h-5.40z"/>
<path d="M323.73,310.12l2.70,4.10h-5.40z"/>
<path d="M324.25,310.11l2.70,4.10h-5.40z"/>
<path d="M324.77,310.11l2.70,4.10h-5.40z"/>
<path d="M325.30,310.11l2.70,4.10h-5.40z"/>
<path d="M325.82,310.10l2.70,4.10h-5.40z"/>
<path d="M326.36,310.10l2.70,4.10h-5.40z"/>
<path d="M326.89,310.10l2.70,4.10h-5.40z"/>
<path d="M327.43,310.09l2.70,4.10h-5.40z"/>
<path d="M327.97,310.09l2.70,4.10h-5.40z"/>
<path d="M328.51,310.09l2.70,4.10h-5.40z"/>
<path d="M329.06,310.09l2.70,4.10h-5.40z"/>
<path d="M329.61,310.09l2.70,4.10h-5.40z"/>
<path d="M330.16,310.09l2.70,4.10h-5.40z"/>
<path d="M330.72,310.09l2.70,4.10h-5.40z"/>
<path d="M331.28,310.09l2.70,4.10h-5.40z"/>
<path d="M331.85,310.09l2.70,4.10h-5.40z"/>
<path d="M332.41,310.09l2.70,4.10h-5.40z"/>
<path d="M332.99,310.09l2.70,4.10h-5.40z"/>
<path d="M333.56,310.09l2.70,4.10h-5.40z"/>
<path d="M334.14,310.09l2.70,4.10h-5.40z"/>
<path d="M334.72,310.09l2.70,4.10h-5.40z"/>
<path d="M335.31,310.10l2.70,4.10h-5.40z"/>
<path d="M335.90,310.10l2.70,4.10h-5.40z"/>
<path d="M336.49,310.10l2.70,4.10h-5.40z"/>
<path d="M337.09,310.10l2.70,4.10h-5.40z"/>
<path d="M337.69,310.10l2.70,4.10h-5.40z"/>
<path d="M338.30,310.11l2.70,4.10h-5.40z"/>
<path d="M338.91,310.11l2.70,4.10h-5.40z"/>
<path d="M339.52,310.11l2.70,4.10h-5.40z"/>
<path d="M340.14,310.11l2.70,4.10h-5.40z"/>
<path d="M340.76,310.11l2.70,4.10h-5.40z"/>
<path d="M341.39,310.12l2.70,4.10h-5.40z"/>
<path d="M342.02,310.12l2.70,4.10h-5.40z"/>
<path d="M342.65,310.12l2.70,4.10h-5.40z"/>
<path d="M343.29,310.12l2.70,4.10h-5.40z"/>
<path d="M343.94,310.12l2.70,4.10h-5.40z"/>
<path d="M344.58,310.12l2.70,4.10h-5.40z"/>
<path d="M345.24,310.13l2.70,4.10h-5.40z"/>
<path d="M345.89,310.13l2.70,4.10h-5.40z"/>
<path d="M346.55,310.13l2.70,4.10h-5.40z"/>
<path d="M347.22,310.13l2.70,4.10h-5.40z"/>
<path d="M347.89,310.13l2.70,4.10h-5.40z"/>
<path d="M348.56,310.13l2.70,4.10h-5.40z"/>
<path d="M349.24,310.13l2.70,4.10h-5.40z"/>
<path d="M349.93,310.13l2.70,4.10h-5.40z"/>
<path d="M350.61,310.13l2.70,4.10h-5.40z"/>
<path d="M351.31,310.13l2.70,4.10h-5.40z"/>
<path d="M352.01,310.13l2.70,4.10h-5.40z"/>
<path d="M352.71,310.13l2.70,4.10h-5.40z"/>
<path d="M353.42,310.13l2.70,4.10h-5.40z"/>
<path d="M354.13,310.13l2.70,4.10h-5.40z"/>
<path d="M354.85,310.13l2.70,4.10h-5.40z"/>
<path d="M355.57,310.13l2.70,4.10h-5.40z"/>
<path d="M356.30,310.13l2.70,4.10h-5.40z"/>
<path d="M357.03,310.13l2.70,4.10h-5.40z"/>
<path d="M357.77,310.13l2.70,4.10h-5.40z"/>
<path d="M358.52,310.13l2.70,4.10h-5.40z"/>
<path d="M359.27,310.13l2.70,4.10h-5.40z"/>
<path d="M360.02,310.13l2.70,4.10h-5.40z"/>
<path d="M360.78,310.13l2.70,4.10h-5.40z"/>
<path d="M361.55,310.13l2.70,4.10h-5.40z"/>
<path d="M362.32,310.13l2.70,4.10h-5.40z"/>
<path d="M363.10,310.13l2.70,4.10h-5.40z"/>
<path d="M363.88,310.13l2.70,4.10h-5.40z"/>
<path d="M364.67,310.12l2.70,4.10h-5.40z"/>
<path d="M365.47,310.12l2.70,4.10h-5.40z"/>
<path d="M366.27,310.11l2.70,4.10h-5.40z"/>
<path d="M367.08,310.10l2.70,4.10h-5.40z"/>
<path d="M367.89,310.09l2.70,4.10h-5.40z"/>
<path d="M368.71,310.08l2.70,4.10h-5.40z"/>
<path d="M369.54,310.07l2.70,4.10h-5.40z"/>
<path d="M370.37,310.05l2.70,4.10h-5.40z"/>
<path d="M371.21,310.03l2.70,4.10h-5.40z"/>
<path d="M372.05,310.01l2.70,4.10h-5.40z"/>
<path d="M372.90,309.97l2.70,4.10h-5.40z"/>
<path d="M373.76,310.03l2.70,4.10h-5.40z"/>
<path d="M374.63,310.03l2.70,4.10h-5.40z"/>
<path d="M375.50,309.85l2.70,4.10h-5.40z"/>
<path d="M376.38,310.05l2.70,4.10h-5.40z"/>
<path d="M377.26,309.86l2.70,4.10h-5.40z"/>
<path d="M378.16,309.82l2.70,4.10h-5.40z"/>
<path d="M379.06,309.85l2.70,4.10h-5.40z"/>
<path d="M379.96,309.97l2.70,4.10h-5.40z"/>
<path d="M380.88,310.01l2.70,4.10h-5.40z"/>
<path d="M381.80,309.76l2.70,4.10h-5.40z"/>
<path d="M382.73,309.62l2.70,4.10h-5.40z"/>
<path d="M383.67,309.77l2.70,4.10h-5.40z"/>
<path d="M384.61,310.00l2.70,4.10h-5.40z"/>
<path d="M385.56,309.53l2.70,4.10h-5.40z"/>
<path d="M386.52,309.82l2.70,4.10h-5.40z"/>
<path d="M387.49,309.57l2.70,4.10h-5.40z"/>
<path d="M388.47,309.78l2.70,4.10h-5.40z"/>
<path d="M389.45,309.56l2.70,4.10h-5.40z"/>
<path d="M390.44,309.64l2.70,4.10h-5.40z"/>
<path d="M391.44,309.97l2.70,4.10h-5.40z"/>
<path d="M392.45,309.30l2.70,4.10h-5.40z"/>
<path d="M393.47,309.77l2.70,4.10h-5.40z"/>
<path d="M394.50,309.60l2.70,4.10h-5.40z"/>
<path d="M395.53,309.13l2.70,4.10h-5.40z"/>
<path d="M396.57,309.83l2.70,4.10h-5.40z"/>
<path d="M397.63,309.16l2.70,4.10h-5.40z"/>
<path d="M398.69,308.84l2.70,4.10h-5.40z"/>
<path d="M399.76,309.25l2.70,4.10h-5.40z"/>
<path d="M400.84,309.17l2.70,4.10h-5.40z"/>
<path d="M401.93,308.43l2.70,4.10h-5.40z"/>
<path d="M403.03,309.44l2.70,4.10h-5.40z"/>
<path d="M404.14,308.64l2.70,4.10h-5.40z"/>
<path d="M405.26,308.27l2.70,4.10h-5.40z"/>
<path d="M406.39,308.48l2.70,4.10h-5.40z"/>
<path d="M407.53,307.60l2.70,4.10h-5.40z"/>
<path d="M408.68,307.92l2.70,4.10h-5.40z"/>
<path d="M409.84,308.12l2.70,4.10h-5.40z"/>
<path d="M411.01,307.81l2.70,4.10h-5.40z"/>
<path d="M412.19,307.75l2.70,4.10h-5.40z"/>
<path d="M413.38,307.87l2.70,4.10h-5.40z"/>
<path d="M414.59,307.02l2.70,4.10h-5.40z"/>
<path d="M415.80,307.03l2.70,4.10h-5.40z"/>
<path d="M417.03,306.91l2.70,4.10h-5.40z"/>
<path d="M418.26,308.02l2.70,4.10h-5.40z"/>
<path d="M419.51,307.37l2.70,4.10h-5.40z"/>
<path d="M420.77,307.38l2.70,4.10h-5.40z"/>
<path d="M422.04,307.05l2.70,4.10h-5.40z"/>
<path d="M423.33,305.81l2.70,4.10h-5.40z"/>
<path d="M424.63,306.20l2.70,4.10h-5.40z"/>
<path d="M425.93,306.53l2.70,4.10h-5.40z"/>
<path d="M427.26,305.27l2.70,4.10h-5.40z"/>
<path d="M428.59,306.10l2.70,4.10h-5.40z"/>
<path d="M429.94,304.54l2.70,4.10h-5.40z"/>
<path d="M431.30,305.40l2.70,4.10h-5.40z"/>
<path d="M432.67,305.22l2.70,4.10h-5.40z"/>
<path d="M434.06,304.42l2.70,4.10h-5.40z"/>
<path d="M435.46,303.25l2.70,4.10h-5.40z"/>
<path d="M436.88,304.21l2.70,4.10h-5.40z"/>
<path d="M438.31,303.08l2.70,4.10h-5.40z"/>
<path d="M439.75,303.25l2.70,4.10h-5.40z"/>
<path d="M441.21,302.22l2.70,4.10h-5.40z"/>
<path d="M442.69,303.19l2.70,4.10h-5.40z"/>
<path d="M444.18,302.55l2.70,4.10h-5.40z"/>
<path d="M445.68,300.52l2.70,4.10h-5.40z"/>
<path d="M447.20,300.63l2.70,4.10h-5.40z"/>
<path d="M448.74,298.92l2.70,4.10h-5.40z"/>
<path d="M450.29,297.44l2.70,4.10h-5.40z"/>
<path d="M451.86,295.68l2.70,4.10h-5.40z"/>
<path d="M453.44,293.22l2.70,4.10h-5.40z"/>
<path d="M455.04,288.95l2.70,4.10h-5.40z"/>
<path d="M456.66,283.95l2.70,4.10h-5.40z"/>
<path d="M458.30,277.25l2.70,4.10h-5.40z"/>
<path d="M459.95,270.95l2.70,4.10h-5.40z"/>
<path d="M461.63,262.95l2.70,4.10h-5.40z"/>
<path d="M463.32,254.15l2.70,4.10h-5.40z"/>
<path d="M465.03,243.65l2.70,4.10h-5.40z"/>
<path d="M466.75,230.65l2.70,4.10h-5.40z"/>
<path d="M468.50,213.25l2.70,4.10h-5.40z"/>
<path d="M470.27,189.95l2.70,4.10h-5.40z"/>
<path d="M472.05,160.15l2.70,4.10h-5.40z"/>
<path d="M473.86,124.95l2.70,4.10h-5.40z"/>
<path d="M475.69,82.95l2.70,4.10h-5.40z"/>
<path d="M477.53,48.55l2.70,4.10h-5.40z"/>
<path d="M479.40,18.45l2.70,4.10h-5.40z"/>
</g>
<g stroke="#00f">
<circle cx="284.66" cy="319.41" r="2.45"/>
<circle cx="284.97" cy="319.41" r="2.45"/>
<circle cx="285.28" cy="319.40" r="2.45"/>
<circle cx="285.59" cy="319.40" r="2.45"/>
<circle cx="285.91" cy="319.39" r="2.45"/>
<circle cx="286.22" cy="319.39" r="2.45"/>
<circle cx="286.54" cy="319.39" r="2.45"/>
<circle cx="286.85" cy="319.38" r="2.45"/>
<circle cx="287.17" cy="319.38" r="2.45"/>
<circle cx="287.49" cy="319.37" r="2.45"/>
<circle cx="287.81" cy="319.36" r="2.45"/>
<circle cx="288.14" cy="319.36" r="2.45"/>
<circle cx="288.46" cy="319.35" r="2.45"/>
<circle cx="288.79" cy="319.35" r="2.45"/>
<circle cx="289.12" cy="319.34" r="2.45"/>
<circle cx="289.45" cy="319.33" r="2.45"/>
<circle cx="289.78" cy="319.32" r="2.45"/>
<circle cx="290.11" cy="319.32" r="2.45"/>
<circle cx="290.45" cy="319.31" r="2.45"/>
<circle cx="290.78" cy="319.30" r="2.45"/>
<circle cx="291.12" cy="319.29" r="2.45"/>
<circle cx="291.46" cy="319.28" r="2.45"/>
<circle cx="291.80" cy="319.26" r="2.45"/>
<circle cx="292.14" cy="319.25" r="2.45"/>
<circle cx="292.49" cy="319.24" r="2.45"/>
<circle cx="292.83" cy="319.23" r="2.45"/>
<circle cx="293.18" cy="319.21" r="2.45"/>
<circle cx="293.53" cy="319.20" r="2.45"/>
<circle cx="293.88" cy="319.18" r="2.45"/>
<circle cx="294.24" cy="319.16" r="2.45"/>
<circle cx="294.59" cy="319.14" r="2.45"/>
<circle cx="294.95" cy="319.12" r="2.45"/>
<circle cx="295.31" cy="319.10" r="2.45"/>
<circle cx="295.67" cy="319.08" r="2.45"/>
<circle cx="296.03" cy="319.06" r="2.45"/>
<circle cx="296.39" cy="319.04" r="2.45"/>
<circle cx="296.76" cy="319.01" r="2.45"/>
<circle cx="297.12" cy="318.99" r="2.45"/>
<circle cx="297.49" cy="318.96" r="2.45"/>
<circle cx="297.87" cy="318.94" r="2.45"/>
<circle cx="298.24" cy="318.91" r="2.45"/>
<circle cx="298.61" cy="318.88" r="2.45"/>
<circle cx="298.99" cy="318.85" r="2.45"/>
<circle cx="299.37" cy="318.82" r="2.45"/>
<circle cx="299.75" cy="318.79" r="2.45"/>
<circle cx="300.13" cy="318.76" r="2.45"/>
<circle cx="300.52" cy="318.73" r="2.45"/>
<circle cx="300.91" cy="318.70" r="2.45"/>
<circle cx="301.29" cy="318.67" r="2.45"/>
<circle cx="301.69" cy="318.64" r="2.45"/>
<circle cx="302.08" cy="318.60" r="2.45"/>
<circle cx="302.47" cy="318.57" r="2.45"/>
<circle cx="302.87" cy="318.54" r="2.45"/>
<circle cx="303.27" cy="318.51" r="2.45"/>
<circle cx="303.67" cy="318.48" r="2.45"/>
<circle cx="304.08" cy="318.44" r="2.45"/>
<circle cx="304.48" cy="318.41" r="2.45"/>
<circle cx="304.89" cy="318.38" r="2.45"/>
<circle cx="305.30" cy="318.34" r="2.45"/>
<circle cx="305.71" cy="318.31" r="2.45"/>
<circle cx="306.13" cy="318.27" r="2.45"/>
<circle cx="306.54" cy="318.23" r="2.45"/>
<circle cx="306.96" cy="318.20" r="2.45"/>
<circle cx="307.38" cy="318.16" r="2.45"/>
<circle cx="307.81" cy="318.12" r="2.45"/>
<circle cx="308.23" cy="318.08" r="2.45"/>
<circle cx="308.66" cy="318.04" r="2.45"/>
<circle cx="309.09" cy="318.01" r="2.45"/>
<circle cx="309.53" cy="317.97" r="2.45"/>
<circle cx="309.96" cy="317.93" r="2.45"/>
<circle cx="310.40" cy="317.89" r="2.45"/>
<circle cx="310.84" cy="317.85" r="2.45"/>
<circle cx="311.28" cy="317.81" r="2.45"/>
<circle cx="311.73" cy="317.77" r="2.45"/>
<circle cx="312.18" cy="317.73" r="2.45"/>
<circle cx="312.63" cy="317.69" r="2.45"/>
<circle cx="313.08" cy="317.65" r="2.45"/>
<circle cx="313.54" cy="317.61" r="2.45"/>
<circle cx="313.99" cy="317.57" r="2.45"/>
<circle cx="314.45" cy="317.54" r="2.45"/>
<circle cx="314.92" cy="317.50" r="2.45"/>
<circle cx="315.38" cy="317.46" r="2.45"/>
<circle cx="315.85" cy="317.42" r="2.45"/>
<circle cx="316.32" cy="317.39" r="2.45"/>
<circle cx="316.80" cy="317.35" r="2.45"/>
<circle cx="317.27" cy="317.31" r="2.45"/>
<circle cx="317.75" cy="317.28" r="2.45"/>
<circle cx="318.24" cy="317.24" r="2.45"/>
<circle cx="318.72" cy="317.21" r="2.45"/>
<circle cx="319.21" cy="317.17" r="2.45"/>
<circle cx="319.70" cy="317.13" r="2.45"/>
<circle cx="320.19" cy="317.10" r="2.45"/>
<circle cx="320.69" cy="317.06" r="2.45"/>
<circle cx="321.19" cy="317.03" r="2.45"/>
<circle cx="321.69" cy="316.99" r="2.45"/>
<circle cx="322.20" cy="316.96" r="2.45"/>
<circle cx="322.71" cy="316.92" r="2.45"/>
<circle cx="323.22" cy="316.89" r="2.45"/>
<circle cx="323.73" cy="316.85" r="2.45"/>
<circle cx="324.25" cy="316.82" r="2.45"/>
<circle cx="324.77" cy="316.78" r="2.45"/>
<circle cx="325.30" cy="316.75" r="2.45"/>
<circle cx="325.82" cy="316.71" r="2.45"/>
<circle cx="326.36" cy="316.67" r="2.45"/>
<circle cx="326.89" cy="316.64" r="2.45"/>
<circle cx="327.43" cy="316.60" r="2.45"/>
<circle cx="327.97" cy="316.56" r="2.45"/>
<circle cx="328.51" cy="316.52" r="2.45"/>
<circle cx="329.06" cy="316.48" r="2.45"/>
<circle cx="329.61" cy="316.44" r="2.45"/>
<circle cx="330.16" cy="316.40" r="2.45"/>
<circle cx="330.72" cy="316.36" r="2.45"/>
<circle cx="331.28" cy="316.32" r="2.45"/>
<circle cx="331.85" cy="316.28" r="2.45"/>
<circle cx="332.41" cy="316.24" r="2.45"/>
<circle cx="332.99" cy="316.20" r="2.45"/>
<circle cx="333.56" cy="316.15" r="2.45"/>
<circle cx="334.14" cy="316.11" r="2.45"/>
<circle cx="334.72" cy="316.07" r="2.45"/>
<circle cx="335.31" cy="316.03" r="2.45"/>
<circle cx="335.90" cy="315.99" r="2.45"/>
<circle cx="336.49" cy="315.94" r="2.45"/>
<circle cx="337.09" cy="315.90" r="2.45"/>
<circle cx="337.69" cy="315.86" r="2.45"/>
<circle cx="338.30" cy="315.81" r="2.45"/>
<circle cx="338.91" cy="315.77" r="2.45"/>
<circle cx="339.52" cy="315.73" r="2.45"/>
<circle cx="340.14" cy="315.68" r="2.45"/>
<circle cx="340.76" cy="315.64" r="2.45"/>
<circle cx="341.39" cy="315.59" r="2.45"/>
<circle cx="342.02" cy="315.54" r="2.45"/>
<circle cx="342.65" cy="315.49" r="2.45"/>
<circle cx="343.29" cy="315.45" r="2.45"/>
<circle cx="343.94" cy="315.40" r="2.45"/>
<circle cx="344.58" cy="315.35" r="2.45"/>
<circle cx="345.24" cy="315.30" r="2.45"/>
<circle cx="345.89" cy="315.24" r="2.45"/>
<circle cx="346.55" cy="315.19" r="2.45"/>
<circle cx="347.22" cy="315.14" r="2.45"/>
<circle cx="347.89" cy="315.08" r="2.45"/>
<circle cx="348.56" cy="315.02" r="2.45"/>
<circle cx="349.24" cy="314.97" r="2.45"/>
<circle cx="349.93" cy="314.91" r="2.45"/>
<circle cx="350.61" cy="314.85" r="2.45"/>
<circle cx="351.31" cy="314.78" r="2.45"/>
<circle cx="352.01" cy="314.72" r="2.45"/>
<circle cx="352.71" cy="314.66" r="2.45"/>
<circle cx="353.42" cy="314.60" r="2.45"/>
<circle cx="354.13" cy="314.53" r="2.45"/>
<circle cx="354.85" cy="314.46" r="2.45"/>
<circle cx="355.57" cy="314.39" r="2.45"/>
<circle cx="356.30" cy="314.33" r="2.45"/>
<circle cx="357.03" cy="314.26" r="2.45"/>
<circle cx="357.77" cy="314.18" r="2.45"/>
<circle cx="358.52" cy="314.11" r="2.45"/>
<circle cx="359.27" cy="314.04" r="2.45"/>
<circle cx="360.02" cy="313.96" r="2.45"/>
<circle cx="360.78" cy="313.88" r="2.45"/>
<circle cx="361.55" cy="313.81" r="2.45"/>
<circle cx="362.32" cy="313.73" r="2.45"/>
<circle cx="363.10" cy="313.64" r="2.45"/>
<circle cx="363.88" cy="313.56" r="2.45"/>
<circle cx="364.67" cy="313.48" r="2.45"/>
<circle cx="365.47" cy="313.39" r="2.45"/>
<circle cx="366.27" cy="313.30" r="2.45"/>
<circle cx="367.08" cy="313.21" r="2.45"/>
<circle cx="367.89" cy="313.12" r="2.45"/>
<circle cx="368.71" cy="313.03" r="2.45"/>
<circle cx="369.54" cy="312.93" r="2.45"/>
<circle cx="370.37" cy="312.84" r="2.45"/>
<circle cx="371.21" cy="312.74" r="2.45"/>
<circle cx="372.05" cy="312.64" r="2.45"/>
<circle cx="372.90" cy="312.53" r="2.45"/>
<circle cx="373.76" cy="312.43" r="2.45"/>
<circle cx="374.63" cy="312.32" r="2.45"/>
<circle cx="375.50" cy="312.21" r="2.45"/>
<circle cx="376.38" cy="312.10" r="2.45"/>
<circle cx="377.26" cy="311.99" r="2.45"/>
<circle cx="378.16" cy="311.87" r="2.45"/>
<circle cx="379.06" cy="311.75" r="2.45"/>
<circle cx="379.96" cy="311.63" r="2.45"/>
<circle cx="380.88" cy="311.51" r="2.45"/>
<circle cx="381.80" cy="311.38" r="2.45"/>
<circle cx="382.73" cy="311.25" r="2.45"/>
<circle cx="383.67" cy="311.12" r="2.45"/>
<circle cx="384.61" cy="310.98" r="2.45"/>
<circle cx="385.56" cy="310.84" r="2.45"/>
<circle cx="386.52" cy="310.70" r="2.45"/>
<circle cx="387.49" cy="310.55" r="2.45"/>
<circle cx="388.47" cy="310.41" r="2.45"/>
<circle cx="389.45" cy="310.25" r="2.45"/>
<circle cx="390.44" cy="310.10" r="2.45"/>
<circle cx="391.44" cy="309.94" r="2.45"/>
<circle cx="392.45" cy="309.78" r="2.45"/>
<circle cx="393.47" cy="309.61" r="2.45"/>
<circle cx="394.50" cy="309.44" r="2.45"/>
<circle cx="395.53" cy="309.27" r="2.45"/>
<circle cx="396.57" cy="309.09" r="2.45"/>
<circle cx="397.63" cy="308.91" r="2.45"/>
<circle cx="398.69" cy="308.72" r="2.45"/>
<circle cx="399.76" cy="308.53" r="2.45"/>
<circle cx="400.84" cy="308.33" r="2.45"/>
<circle cx="401.93" cy="308.13" r="2.45"/>
<circle cx="403.03" cy="307.92" r="2.45"/>
<circle cx="404.14" cy="307.71" r="2.45"/>
<circle cx="405.26" cy="307.49" r="2.45"/>
<circle cx="406.39" cy="307.27" r="2.45"/>
<circle cx="407.53" cy="307.04" r="2.45"/>
<circle cx="408.68" cy="306.81" r="2.45"/>
<circle cx="409.84" cy="306.57" r="2.45"/>
<circle cx="411.01" cy="306.32" r="2.45"/>
<circle cx="412.19" cy="306.07" r="2.45"/>
<circle cx="413.38" cy="305.82" r="2.45"/>
<circle cx="414.59" cy="305.55" r="2.45"/>
<circle cx="415.80" cy="305.28" r="2.45"/>
<circle cx="417.03" cy="305.01" r="2.45"/>
<circle cx="418.26" cy="304.72" r="2.45"/>
<circle cx="419.51" cy="304.43" r="2.45"/>
<circle cx="420.77" cy="304.13" r="2.45"/>
<circle cx="422.04" cy="303.83" r="2.45"/>
<circle cx="423.33" cy="303.51" r="2.45"/>
<circle cx="424.63" cy="303.19" r="2.45"/>
<circle cx="425.93" cy="302.86" r="2.45"/>
<circle cx="427.26" cy="302.52" r="2.45"/>
<circle cx="428.59" cy="302.17" r="2.45"/>
<circle cx="429.94" cy="301.81" r="2.45"/>
<circle cx="431.30" cy="301.44" r="2.45"/>
<circle cx="432.67" cy="301.06" r="2.45"/>
<circle cx="434.06" cy="300.67" r="2.45"/>
<circle cx="435.46" cy="300.27" r="2.45"/>
<circle cx="436.88" cy="299.87" r="2.45"/>
<circle cx="438.31" cy="299.45" r="2.45"/>
<circle cx="439.75" cy="299.01" r="2.45"/>
<circle cx="441.21" cy="298.57" r="2.45"/>
<circle cx="442.69" cy="298.11" r="2.45"/>
<circle cx="444.18" cy="297.64" r="2.45"/>
<circle cx="445.68" cy="297.18" r="2.45"/>
<circle cx="447.20" cy="296.70" r="2.45"/>
<circle cx="448.74" cy="296.16" r="2.45"/>
<circle cx="450.29" cy="295.55" r="2.45"/>
<circle cx="451.86" cy="294.75" r="2.45"/>
<circle cx="453.44" cy="293.38" r="2.45"/>
<circle cx="455.04" cy="291.27" r="2.45"/>
<circle cx="456.66" cy="287.60" r="2.45"/>
<circle cx="458.30" cy="282.50" r="2.45"/>
<circle cx="459.95" cy="275.60" r="2.45"/>
<circle cx="461.63" cy="268.80" r="2.45"/>
<circle cx="463.32" cy="260.10" r="2.45"/>
<circle cx="465.03" cy="249.40" r="2.45"/>
<circle cx="466.75" cy="238.90" r="2.45"/>
<circle cx="468.50" cy="225.20" r="2.45"/>
<circle cx="470.27" cy="204.80" r="2.45"/>
<circle cx="472.05" cy="178.30" r="2.45"/>
<circle cx="473.86" cy="140.40" r="2.45"/>
<circle cx="475.69" cy="96.40" r="2.45"/>
<circle cx="477.53" cy="41.80" r="2.45"/>
</g>
<line x1="478.6" y1="3.6" x2="456.5" y2="312.5" stroke="#000" stroke-width="0.6"/>
<line x1="482.6" y1="3.6" x2="462.0" y2="282" stroke="#f00" stroke-width="0.6"/>
<line x1="480.5" y1="3.6" x2="460.5" y2="319.5" stroke="#00f" stroke-width="0.6"/>
</g>
<g font-size="9" text-anchor="end" class="s9">
<text x="283.2" y="322.60">0</text>
<text x="283.2" y="217.27">1</text>
<text x="283.2" y="111.93">2</text>
<text x="283.2" y="5.90">3</text>
</g>
<g font-size="9" text-anchor="middle" class="s9">
<text x="290.00" y="334.2">1.5</text>
<text x="335.90" y="334.2">2.0</text>
<text x="381.80" y="334.2">2.5</text>
<text x="427.70" y="334.2">3.0</text>
<text x="473.60" y="334.2">3.5</text>
<text x="519.50" y="334.2">4.0</text>
</g>
<text x="386.8" y="349.3" font-size="13.4" class="s13">E (eV)</text>
<text transform="translate(271.6,215.6) rotate(-90)" font-size="12.5" class="s13">(&#945;E)<tspan font-size="11" dy="-6">2</tspan><tspan dy="6"> (&#215;10</tspan><tspan font-size="11" dy="-6">11</tspan><tspan dy="6">eV</tspan><tspan font-size="11" dy="-6">2</tspan><tspan dy="6">cm</tspan><tspan font-size="11" dy="-6">-2</tspan><tspan dy="6">)</tspan></text>
<text x="328.2" y="34.6" font-size="19.5" class="s19">b)</text>
<rect x="365.9" y="76.4" width="4.3" height="4.3" fill="none" stroke="#000" stroke-width="0.7"/>
<path d="M368.7,105.7l2.5,4.4h-5z" fill="none" stroke="#f00" stroke-width="0.9"/>
<circle cx="365.7" cy="137.5" r="2.3" fill="none" stroke="#00f" stroke-width="0.9"/>
<text x="389.1" y="84.2" font-size="15.7" class="s16">100 eV</text>
<text x="391.7" y="114.5" font-size="16.8" class="s16">80 eV</text>
<text x="388.4" y="142.7" font-size="16.8" class="s16">60 eV</text>
</svg></body></html>
